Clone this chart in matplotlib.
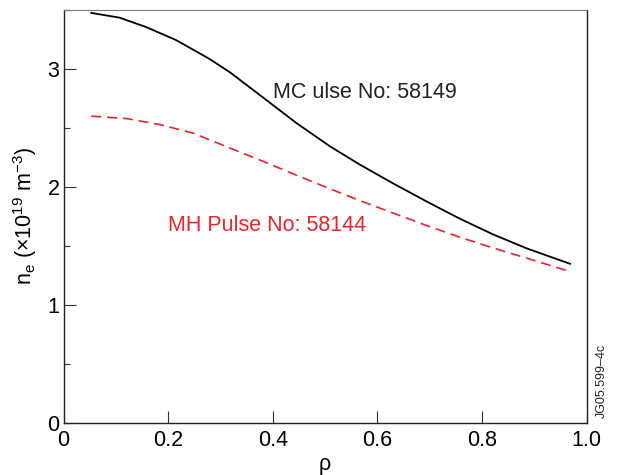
import numpy as np
import matplotlib
matplotlib.use("Agg")
import matplotlib.pyplot as plt
from matplotlib.ticker import MultipleLocator

plt.rcParams["font.family"] = ["Liberation Sans", "DejaVu Sans"]
plt.rcParams["mathtext.fontset"] = "custom"
plt.rcParams["mathtext.rm"] = "Liberation Sans"
plt.rcParams["mathtext.it"] = "Liberation Sans:italic"

# ----------------------------
# Data
# ----------------------------
rho_mc = [0.053, 0.107, 0.158, 0.215, 0.279, 0.318, 0.382, 0.445, 0.509,
          0.566, 0.630, 0.694, 0.757, 0.821, 0.885, 0.968]
ne_mc = [3.475, 3.435, 3.355, 3.245, 3.085, 2.972, 2.756, 2.542, 2.345,
         2.19, 2.03, 1.877, 1.732, 1.598, 1.48, 1.349]

rho_mh = [0.053, 0.12, 0.183, 0.247, 0.318, 0.382, 0.445, 0.509,
          0.566, 0.630, 0.694, 0.757, 0.821, 0.885, 0.968]
ne_mh = [2.60, 2.58, 2.53, 2.457, 2.33, 2.216, 2.10, 1.985,
         1.885, 1.779, 1.673, 1.575, 1.483, 1.397, 1.283]

xticks = [0, 0.2, 0.4, 0.6, 0.8, 1.0]
xtick_labels = ["0", "0.2", "0.4", "0.6", "0.8", "1.0"]
yticks = [0, 1, 2, 3]

# ----------------------------
# Figure
# ----------------------------
fig = plt.figure(figsize=(6.17, 4.75), dpi=100)
ax = fig.add_axes([0.103, 0.1095, 0.848, 0.8695])

ax.plot(rho_mc, ne_mc, color="black", linewidth=1.3)
ax.plot(rho_mh, ne_mh, color="#e8242c", linewidth=1.2, dashes=(6, 3.5))

ax.text(0.40, 2.80, "MC ulse No: 58149", fontsize=15.5, color="#222222",
        va="center", ha="left")
ax.text(0.20, 1.67, "MH Pulse No: 58144", fontsize=15.5, color="#e8242c",
        va="center", ha="left")

ax.set_xlim(0, 1.0)
ax.set_ylim(0, 3.5)
ax.set_xticks(xticks)
ax.set_xticklabels(xtick_labels)
ax.set_yticks(yticks)
ax.yaxis.set_minor_locator(MultipleLocator(0.5))

ax.tick_params(axis="both", which="major", direction="in", length=8.5,
               width=0.8, labelsize=15.5, color="#333333", pad=3)
ax.tick_params(axis="y", which="minor", direction="in", length=4.5,
               width=0.8, color="#333333")
ax.tick_params(axis="x", pad=5)

for side in ["left", "bottom", "right"]:
    ax.spines[side].set_color("#222222")
    ax.spines[side].set_linewidth(1.0)
ax.spines["top"].set_color("#777777")
ax.spines["top"].set_linewidth(0.8)

ax.set_xlabel("ρ", fontsize=15.5, labelpad=2)
ax.set_ylabel(r"n$_\mathregular{e}$ (×10$^\mathregular{19}$ m$^\mathregular{−3}$)",
              fontsize=15.5, labelpad=6)

fig.text(0.975, 0.198, "JG05.599–4c", rotation=90, fontsize=9,
         color="#222222", ha="center", va="center")

fig.savefig("out.png", dpi=100)
